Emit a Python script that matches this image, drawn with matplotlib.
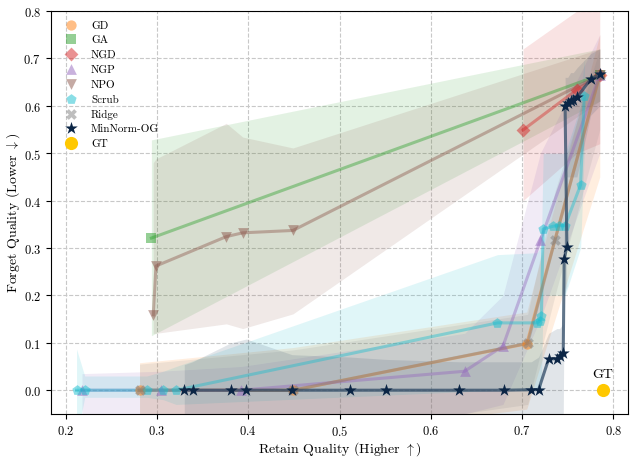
import matplotlib
matplotlib.use("Agg")
import matplotlib.pyplot as plt

plt.rcParams['font.family'] = 'serif'
plt.rcParams['font.serif'] = ['cmr10', 'DejaVu Serif']
plt.rcParams['mathtext.fontset'] = 'cm'
plt.rcParams['axes.formatter.use_mathtext'] = True

# retain (x), forget (y), band lower / upper
gd_x = [0.281, 0.449, 0.705, 0.785]
gd_y = [0.0, 0.0, 0.098, 0.665]
gd_lo = [-0.10, -0.10, -0.04, 0.45]
gd_hi = [0.058, 0.090, 0.165, 0.75]

ga_x = [0.294, 0.785]
ga_y = [0.321, 0.665]
ga_lo = [0.115, 0.61]
ga_hi = [0.528, 0.72]

ngd_x = [0.701, 0.760, 0.785]
ngd_y = [0.549, 0.634, 0.665]
ngd_lo = [0.40, 0.50, 0.52]
ngd_hi = [0.72, 0.80, 0.84]

ngp_x = [0.218, 0.304, 0.392, 0.637, 0.679, 0.720, 0.785]
ngp_y = [0.0, 0.0, 0.0, 0.040, 0.093, 0.316, 0.665]
ngp_lo = [-0.06, -0.06, -0.06, -0.05, -0.03, 0.15, 0.50]
ngp_hi = [0.035, 0.040, 0.050, 0.12, 0.20, 0.50, 0.75]

npo_x = [0.296, 0.299, 0.376, 0.394, 0.449, 0.785]
npo_y = [0.159, 0.262, 0.324, 0.332, 0.337, 0.665]
npo_lo = [0.12, 0.12, 0.14, 0.13, 0.161, 0.61]
npo_hi = [0.48, 0.488, 0.563, 0.534, 0.511, 0.72]

scrub_x = [0.212, 0.221, 0.289, 0.307, 0.321, 0.673, 0.716, 0.720, 0.721,
           0.723, 0.734, 0.740, 0.747, 0.764, 0.768]
scrub_y = [0.0, 0.0, 0.0, 0.0, 0.0, 0.142, 0.142, 0.147, 0.156,
           0.340, 0.346, 0.347, 0.347, 0.433, 0.621]
scrub_lo = [-0.10, -0.015, -0.015, -0.02, -0.03, 0.0, 0.0, 0.0, 0.0,
            0.20, 0.20, 0.20, 0.20, 0.30, 0.50]
scrub_hi = [0.087, 0.03, 0.03, 0.04, 0.05, 0.286, 0.29, 0.30, 0.30,
            0.50, 0.50, 0.50, 0.50, 0.60, 0.70]

ridge_x = [0.281, 0.449, 0.706, 0.736, 0.785]
ridge_y = [0.0, 0.0, 0.099, 0.317, 0.665]
ridge_lo = [-0.10, -0.10, -0.03, 0.20, 0.55]
ridge_hi = [0.055, 0.085, 0.16, 0.42, 0.72]

og_x = [0.330, 0.339, 0.381, 0.398, 0.448, 0.511, 0.551, 0.631, 0.680, 0.710,
        0.718, 0.729, 0.738, 0.741, 0.745, 0.746, 0.749, 0.747, 0.750, 0.753,
        0.756, 0.760, 0.775, 0.785]
og_y = [0.0, 0.0, 0.0, 0.0, 0.0, 0.0, 0.0, 0.0, 0.0, 0.001,
        0.001, 0.066, 0.066, 0.073, 0.079, 0.277, 0.303, 0.600, 0.605, 0.610,
        0.613, 0.618, 0.656, 0.667]
og_lo = [-0.10, -0.10, -0.10, -0.10, -0.10, -0.10, -0.10, -0.10, -0.10, -0.10,
         -0.10, -0.06, -0.06, -0.06, -0.06, 0.20, 0.22, 0.45, 0.45, 0.45,
         0.45, 0.45, 0.58, 0.60]
og_hi = [0.054, 0.060, 0.100, 0.108, 0.075, 0.070, 0.065, 0.060, 0.060, 0.060,
         0.070, 0.12, 0.13, 0.13, 0.14, 0.35, 0.40, 0.66, 0.66, 0.67,
         0.67, 0.68, 0.71, 0.72]

gt_x, gt_y = 0.788, 0.0

methods = [
    ("GD", gd_x, gd_y, gd_lo, gd_hi, "tab:orange", "o", 55),
    ("GA", ga_x, ga_y, ga_lo, ga_hi, "tab:green", "s", 50),
    ("NGD", ngd_x, ngd_y, ngd_lo, ngd_hi, "tab:red", "D", 50),
    ("NGP", ngp_x, ngp_y, ngp_lo, ngp_hi, "tab:purple", "^", 60),
    ("NPO", npo_x, npo_y, npo_lo, npo_hi, "tab:brown", "v", 60),
    ("Scrub", scrub_x, scrub_y, scrub_lo, scrub_hi, "tab:cyan", "p", 60),
    ("Ridge", ridge_x, ridge_y, ridge_lo, ridge_hi, "tab:gray", "X", 60),
]

fig, ax = plt.subplots(figsize=(6.37, 4.6), dpi=100)
fig.subplots_adjust(left=0.080, right=0.986, top=0.974, bottom=0.098)

for name, x, y, lo, hi, c, m, s in methods:
    ax.fill_between(x, lo, hi, color=c, alpha=0.13, lw=0)
    ax.plot(x, y, color=c, lw=2.2, alpha=0.42)
    ax.scatter(x, y, color=c, marker=m, s=s, alpha=0.5, lw=0, label=name, zorder=3)

og_col = "#0b2545"
ax.fill_between(og_x, og_lo, og_hi, color="#2f4a66", alpha=0.14, lw=0)
ax.plot(og_x, og_y, color="#2f4a66", lw=2.2, alpha=0.75, zorder=4)
ax.scatter(og_x, og_y, color=og_col, marker="*", s=90, lw=0, label="MinNorm-OG", zorder=5)

ax.scatter([gt_x], [gt_y], color="#ffc800", marker="o", s=90, lw=0, label="GT", zorder=6)
ax.text(gt_x, gt_y + 0.022, "GT", ha="center", va="bottom", fontsize=10)

ax.set_xlim(0.184, 0.816)
ax.set_ylim(-0.05, 0.8)
ax.set_xticks([0.2, 0.3, 0.4, 0.5, 0.6, 0.7, 0.8])
ax.set_yticks([0.0, 0.1, 0.2, 0.3, 0.4, 0.5, 0.6, 0.7, 0.8])
ax.tick_params(labelsize=9)
ax.grid(True, ls="--", color="#c8c8c8", lw=0.8)
ax.set_axisbelow(True)
ax.set_xlabel(r"Retain Quality (Higher $\uparrow$)", fontsize=10, labelpad=1)
ax.set_ylabel(r"Forget Quality (Lower $\downarrow$)", fontsize=10, labelpad=1)

ax.legend(loc="upper left", frameon=False, fontsize=8, handletextpad=0.8,
          labelspacing=0.45, borderaxespad=0.4)

plt.savefig("out.png", dpi=100)
